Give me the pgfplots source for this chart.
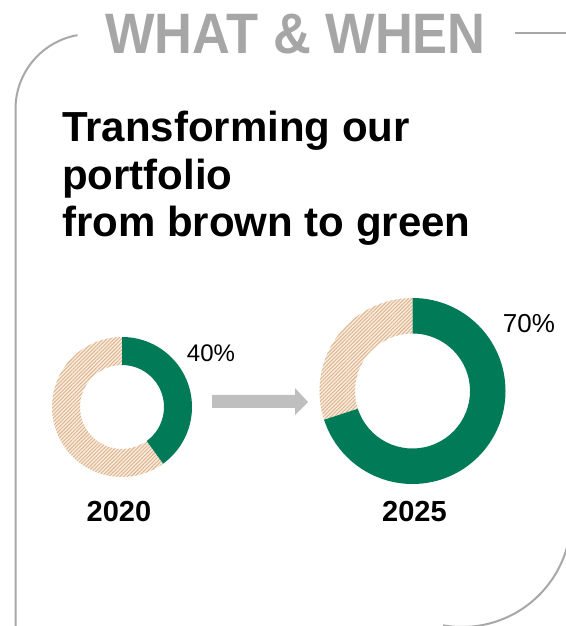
\documentclass[border=0pt]{standalone}
\usepackage{pgfplots}
\pgfplotsset{compat=1.18}
\usepackage{pgfplotstable}
\usetikzlibrary{patterns.meta}
\usepackage{fontspec}
\setmainfont{Liberation Sans}
\definecolor{gr}{HTML}{007A57}
\definecolor{tanline}{HTML}{DDB088}
\definecolor{tanbg}{HTML}{F8ECDF}
\definecolor{arrowgray}{HTML}{BFBFBF}
\definecolor{framegray}{HTML}{A8A8A8}
\definecolor{titlegray}{HTML}{A6A6A6}

% year, green share (%), donut centre (x,y), outer and inner radius
\pgfplotstableread{
year share cx cy rout rin
2020 40 122 219 70 42
2025 70 412.5 235 93 57.5
}\donuts

\pgfplotstablegetelem{0}{share}\of\donuts \let\shareA\pgfplotsretval
\pgfplotstablegetelem{1}{share}\of\donuts \let\shareB\pgfplotsretval

\begin{document}
\begin{tikzpicture}
\useasboundingbox (0,0) rectangle (565pt,626pt);
\begin{axis}[
  at={(0,0)}, anchor=south west,
  scale only axis, width=565pt, height=626pt,
  xmin=0, xmax=565, ymin=0, ymax=626,
  enlargelimits=false, hide axis, clip=false,
]
% frame
\draw[framegray, line width=2pt] (axis cs:15.5,-5) -- (axis cs:15.5,517) arc[start angle=180, end angle=100, radius=75pt];
\draw[framegray, line width=2pt] (axis cs:515,593) -- (axis cs:570,593);
\draw[framegray, line width=2pt] (axis cs:462,108) ++(14:109pt) arc[start angle=14, end angle=-100, radius=109pt];

% title
\node[anchor=base, inner sep=0pt, text=titlegray] at (axis cs:295.5,572)
  {\scalebox{0.92}[1]{\fontsize{57}{60}\selectfont\bfseries WHAT \& WHEN}};
% subtitle
\node[anchor=base west, inner sep=0pt] at (axis cs:62,484) {\fontsize{42}{47}\selectfont\bfseries Transforming our};
\node[anchor=base west, inner sep=0pt] at (axis cs:62,436.5) {\fontsize{42}{47}\selectfont\bfseries portfolio};
\node[anchor=base west, inner sep=0pt] at (axis cs:62,389) {\fontsize{42}{47}\selectfont\bfseries from brown to green};

% donut 2020
\fill[tanbg] (axis cs:122,219) ++({90-3.6*\shareA}:70pt) arc[start angle={90-3.6*\shareA}, end angle=-270, radius=70pt]
  -- ++(-270:-28pt) arc[start angle=-270, end angle={90-3.6*\shareA}, radius=42pt] -- cycle;
\fill[pattern={Lines[angle=45, distance=2.6pt, line width=0.9pt]}, pattern color=tanline]
  (axis cs:122,219) ++({90-3.6*\shareA}:70pt) arc[start angle={90-3.6*\shareA}, end angle=-270, radius=70pt]
  -- ++(-270:-28pt) arc[start angle=-270, end angle={90-3.6*\shareA}, radius=42pt] -- cycle;
\fill[gr] (axis cs:122,219) ++(90:70pt) arc[start angle=90, end angle={90-3.6*\shareA}, radius=70pt]
  -- ++({90-3.6*\shareA}:-28pt) arc[start angle={90-3.6*\shareA}, end angle=90, radius=42pt] -- cycle;

% donut 2025
\fill[tanbg] (axis cs:412.5,235) ++({90-3.6*\shareB}:93pt) arc[start angle={90-3.6*\shareB}, end angle=-270, radius=93pt]
  -- ++(-270:-35.5pt) arc[start angle=-270, end angle={90-3.6*\shareB}, radius=57.5pt] -- cycle;
\fill[pattern={Lines[angle=45, distance=2.6pt, line width=0.9pt]}, pattern color=tanline]
  (axis cs:412.5,235) ++({90-3.6*\shareB}:93pt) arc[start angle={90-3.6*\shareB}, end angle=-270, radius=93pt]
  -- ++(-270:-35.5pt) arc[start angle=-270, end angle={90-3.6*\shareB}, radius=57.5pt] -- cycle;
\fill[gr] (axis cs:412.5,235) ++(90:93pt) arc[start angle=90, end angle={90-3.6*\shareB}, radius=93pt]
  -- ++({90-3.6*\shareB}:-35.5pt) arc[start angle={90-3.6*\shareB}, end angle=90, radius=57.5pt] -- cycle;

% arrow
\fill[arrowgray] (axis cs:212,231) -- (axis cs:295,231) -- (axis cs:295,238) -- (axis cs:308,224)
  -- (axis cs:295,211) -- (axis cs:295,218) -- (axis cs:212,218) -- cycle;

% labels
\node[anchor=base, inner sep=0pt] at (axis cs:211,264) {\fontsize{24}{28}\selectfont \shareA\%};
\node[anchor=base, inner sep=0pt] at (axis cs:529,293) {\fontsize{26}{30}\selectfont \shareB\%};
\node[anchor=base, inner sep=0pt] at (axis cs:119,104) {\fontsize{29}{32}\selectfont\bfseries 2020};
\node[anchor=base, inner sep=0pt] at (axis cs:414.5,104) {\fontsize{29}{32}\selectfont\bfseries 2025};
\end{axis}
\end{tikzpicture}
\end{document}
